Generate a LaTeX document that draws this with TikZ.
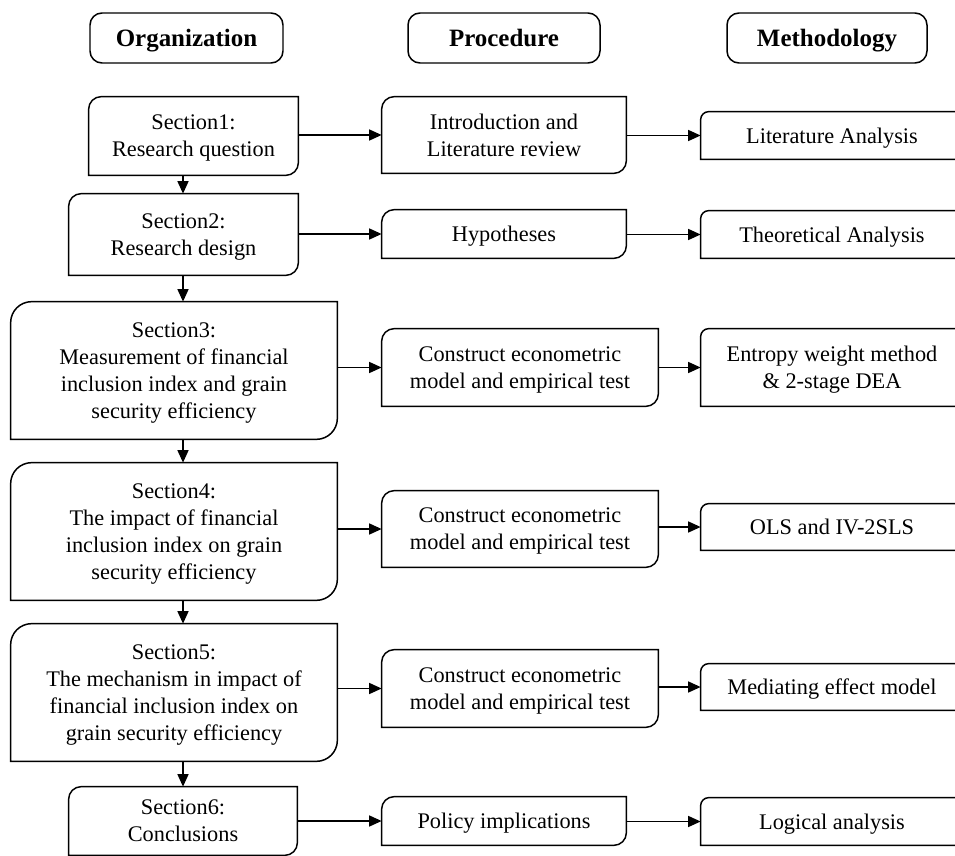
\documentclass[tikz,border=0pt]{standalone}
\usepackage{fontspec}
\setmainfont{Liberation Serif}
\usetikzlibrary{arrows.meta}

% box with rounded top-left and bottom-right corners
\newcommand{\cutbox}[2]{%
  \draw[line width=0.85pt] (#1.west) [rounded corners=#2] -- (#1.north west) -- (#1.north)
    [sharp corners] -- (#1.north east) -- (#1.east)
    [rounded corners=#2] -- (#1.south east) -- (#1.south)
    [sharp corners] -- (#1.south west) -- cycle;}

\begin{document}
\begin{tikzpicture}
    % Define styles
    \tikzstyle{head} = [rectangle, draw, line width=0.85pt, rounded corners=0.24cm, minimum height=1cm, inner sep=0pt, text depth=0pt, font=\bfseries\fontsize{14.2}{17}\selectfont]
    \tikzstyle{stage} = [rectangle, inner sep=0pt, align=center, text depth=0pt, font=\fontsize{12.7}{15.3}\selectfont]
    \tikzstyle{line} = [draw, line width=0.85pt, -{Triangle[length=2.5mm, width=2.2mm]}]

    \clip (0,0) rectangle (19.1,-17.12);

    % Place nodes
    \node [head, minimum width=3.86cm] (org) at (3.73,-0.76) {Organization};
    \node [head, minimum width=3.84cm] (proc) at (10.08,-0.76) {Procedure};
    \node [head, minimum width=4.0cm] (meth) at (16.54,-0.76) {Methodology};

    \node [stage, minimum width=4.18cm, minimum height=1.56cm] (s1) at (3.87,-2.72) {Section1:\\Research question};
    \node [stage, minimum width=4.58cm, minimum height=1.62cm] (s2) at (3.67,-4.69) {Section2:\\Research design};
    \node [stage, minimum width=6.52cm, minimum height=2.74cm] (s3) at (3.48,-7.41) {Section3:\\Measurement of financial\\inclusion index and grain\\security efficiency};
    \node [stage, minimum width=6.52cm, minimum height=2.74cm] (s4) at (3.48,-10.63) {Section4:\\The impact of financial\\inclusion index on grain\\security efficiency};
    \node [stage, minimum width=6.52cm, minimum height=2.74cm] (s5) at (3.48,-13.85) {Section5:\\The mechanism in impact of\\financial inclusion index on\\grain security efficiency};
    \node [stage, minimum width=4.56cm, minimum height=1.36cm] (s6) at (3.66,-16.42) {Section6:\\Conclusions};

    \node [stage, minimum width=4.88cm, minimum height=1.52cm] (intro) at (10.08,-2.70) {Introduction and\\Literature review};
    \node [stage, minimum width=4.88cm, minimum height=0.96cm] (hyp) at (10.08,-4.68) {Hypotheses};
    \node [stage, minimum width=5.52cm, minimum height=1.54cm] (con1) at (10.40,-7.35) {Construct econometric\\model and empirical test};
    \node [stage, minimum width=5.52cm, minimum height=1.52cm] (con2) at (10.40,-10.58) {Construct econometric\\model and empirical test};
    \node [stage, minimum width=5.52cm, minimum height=1.54cm] (con3) at (10.40,-13.77) {Construct econometric\\model and empirical test};
    \node [stage, minimum width=4.88cm, minimum height=0.96cm] (pol) at (10.08,-16.42) {Policy implications};

    \node [stage, minimum width=5.24cm, minimum height=0.94cm] (lit) at (16.64,-2.71) {Literature Analysis};
    \node [stage, minimum width=5.24cm, minimum height=0.94cm] (theo) at (16.64,-4.69) {Theoretical Analysis};
    \node [stage, minimum width=5.24cm, minimum height=1.54cm] (ent) at (16.64,-7.35) {Entropy weight method\\\& 2-stage DEA};
    \node [stage, minimum width=5.24cm, minimum height=0.92cm] (ols) at (16.64,-10.54) {OLS and IV-2SLS};
    \node [stage, minimum width=5.24cm, minimum height=0.92cm] (med) at (16.64,-13.74) {Mediating effect model};
    \node [stage, minimum width=5.24cm, minimum height=0.94cm] (log) at (16.64,-16.43) {Logical analysis};

    % Draw boxes
    \foreach \b in {s1, s2, s6, intro, hyp, con1, con2, con3, pol}
        {\cutbox{\b}{0.25cm}}
    \foreach \b in {s3, s4, s5}
        {\cutbox{\b}{0.42cm}}
    \foreach \b in {lit, theo, ent, ols, med, log}
        {\cutbox{\b}{0.16cm}}

    % Draw edges
    \foreach \a/\b in {s1/s2, s2/s3, s3/s4, s4/s5, s5/s6}
        \path [line] (\a.south -| s6.north) -- (\b.north -| s6.north);
    \foreach \a/\b in {s1/intro, s2/hyp, s3/con1, s4/con2, s5/con3, s6/pol}
        \path [line] (\a.east |- \b.west) -- (\b.west);
    \foreach \a/\b in {intro/lit, hyp/theo, con1/ent, con2/ols, con3/med, pol/log}
        \path [line] (\a.east |- \b.west) -- (\b.west);
\end{tikzpicture}
\end{document}
